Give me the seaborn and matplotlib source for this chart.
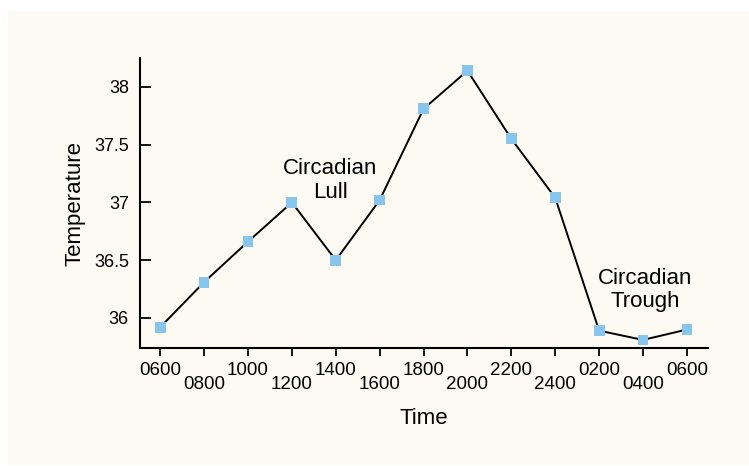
import pandas as pd
import matplotlib.pyplot as plt
import matplotlib.patches as mpatches
import seaborn as sns

# Data uit de grafiek
time_labels = ["0600", "0800", "1000", "1200", "1400", "1600", "1800",
               "2000", "2200", "2400", "0200", "0400", "0600"]
temperature = [35.92, 36.31, 36.66, 37.0, 36.5, 37.02, 37.81,
               38.14, 37.55, 37.04, 35.89, 35.81, 35.90]
y_ticks = [36, 36.5, 37, 37.5, 38]
y_tick_labels = ["36", "36.5", "37", "37.5", "38"]

df = pd.DataFrame({"pos": range(len(time_labels)), "temperature": temperature})

sns.set_style("ticks")
plt.rcParams["font.family"] = ["Liberation Sans", "DejaVu Sans"]
plt.rcParams["text.color"] = "black"
plt.rcParams["axes.labelcolor"] = "black"
plt.rcParams["xtick.color"] = "black"
plt.rcParams["ytick.color"] = "black"
plt.rcParams["axes.edgecolor"] = "black"

fig = plt.figure(figsize=(7.49, 4.66), dpi=100, facecolor="white")
# lichte achtergrond panel
fig.patches.append(mpatches.Rectangle((8 / 749, 1 - 465 / 466), 741 / 749, 454 / 466,
                                      transform=fig.transFigure, facecolor="#fdfaf4",
                                      edgecolor="none", zorder=-10))
ax = fig.add_axes([140 / 749, 1 - 348 / 466, 568 / 749, 290 / 466])
ax.set_facecolor("none")

sns.lineplot(data=df, x="pos", y="temperature", color="black", linewidth=1.4, ax=ax)
sns.scatterplot(data=df, x="pos", y="temperature", marker="s", s=60, color="#88c5ec",
                edgecolor="none", zorder=3, ax=ax)

ax.set_xlim(-0.46, 12.48)
ax.set_ylim(35.74, 38.25)
ax.set_xticks(range(len(time_labels)))
ax.set_xticklabels([lab if i % 2 == 0 else "\n" + lab for i, lab in enumerate(time_labels)],
                   fontsize=13.5)
for lab in ax.get_xticklabels():
    lab.set_linespacing(0.78)
ax.set_yticks(y_ticks)
ax.set_yticklabels(y_tick_labels, fontsize=13)
ax.tick_params(axis="x", direction="out", length=6, width=1.3, pad=4)
ax.tick_params(axis="y", direction="in", length=8, width=1.3, pad=8)
for s in ["top", "right"]:
    ax.spines[s].set_visible(False)
for s in ["left", "bottom"]:
    ax.spines[s].set_linewidth(1.5)

ax.set_xlabel("Time", fontsize=16, labelpad=11)
ax.set_ylabel("Temperature", fontsize=16, labelpad=6)

ax.text(3.87, 37.19, "Circadian\nLull", ha="center", va="center", fontsize=16,
        linespacing=1.15)
ax.text(11.05, 36.24, "Circadian\nTrough", ha="center", va="center", fontsize=16,
        linespacing=1.15)

plt.savefig("out.png", dpi=100, facecolor="white")
